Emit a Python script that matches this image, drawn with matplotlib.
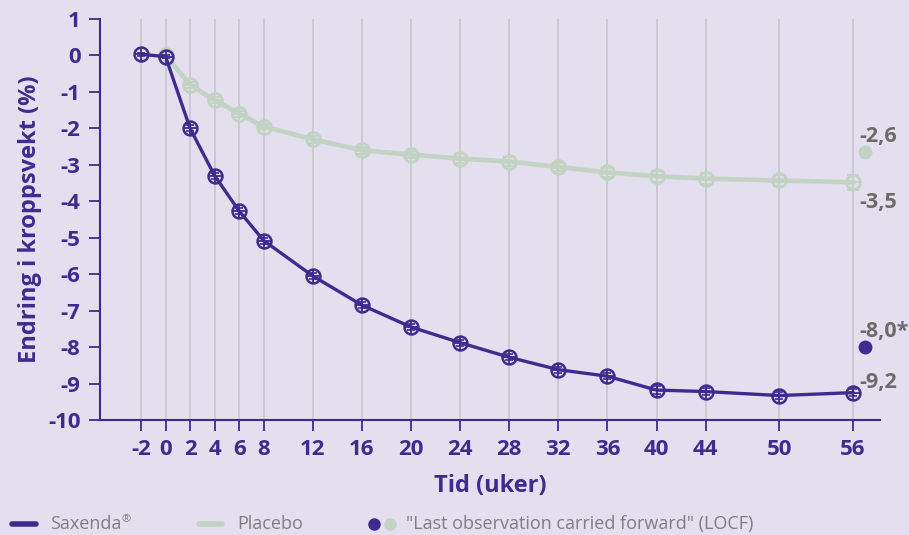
import numpy as np
import matplotlib
matplotlib.use('Agg')
import matplotlib.pyplot as plt
from matplotlib.lines import Line2D

plt.rcParams['font.family'] = ['Open Sans', 'DejaVu Sans']

# uker
uker_sax = [-2, 0, 2, 4, 6, 8, 12, 16, 20, 24, 28, 32, 36, 40, 44, 50, 56]
saxenda = [0.03, -0.03, -2.0, -3.3, -4.27, -5.08, -6.05, -6.85, -7.45, -7.88,
           -8.28, -8.62, -8.8, -9.18, -9.22, -9.33, -9.25]
saxenda_err = [0.05, 0.05, 0.08, 0.08, 0.08, 0.08, 0.08, 0.08, 0.08, 0.08,
               0.08, 0.08, 0.08, 0.1, 0.1, 0.1, 0.1]

uker_pla = [0, 2, 4, 6, 8, 12, 16, 20, 24, 28, 32, 36, 40, 44, 50, 56]
placebo = [0.0, -0.8, -1.23, -1.6, -1.95, -2.3, -2.6, -2.72, -2.83, -2.91,
           -3.06, -3.21, -3.31, -3.38, -3.43, -3.48]
placebo_err = [0.05, 0.08, 0.08, 0.08, 0.08, 0.1, 0.1, 0.1, 0.12, 0.12,
               0.12, 0.12, 0.15, 0.15, 0.15, 0.2]

locf_uke = 57
locf_sax = -8.0
locf_pla = -2.65

etiketter = [('-2,6', -2.23), ('-3,5', -4.03), ('-8,0*', -7.58), ('-9,2', -8.98)]

xticks = [-2, 0, 2, 4, 6, 8, 12, 16, 20, 24, 28, 32, 36, 40, 44, 50, 56]
yticks = list(range(1, -11, -1))

lilla = '#3f2b8f'
gronn = '#c3d3c3'
bakgrunn = '#e3dfee'
gra_tekst = '#6b6b6b'

fig = plt.figure(figsize=(9.09, 5.35), dpi=100, facecolor=bakgrunn)
ax = fig.add_axes([0.110, 0.215, 0.858, 0.7495])
ax.set_facecolor(bakgrunn)

for x in xticks:
    ax.axvline(x, color='#c7c4cd', lw=1.2, zorder=0)

# placebo
ax.errorbar(uker_pla, placebo, yerr=placebo_err, color=gronn, lw=3.4,
            elinewidth=1.5, capsize=4, capthick=1.5, zorder=2)
ax.plot(uker_pla, placebo, 'o', ms=10, mfc='none', mec=gronn, mew=2, zorder=3)
ax.plot(uker_pla, placebo, '+', ms=10, mec=gronn, mew=1.5, zorder=3)

# saxenda
ax.errorbar(uker_sax, saxenda, yerr=saxenda_err, color=lilla, lw=2.4,
            elinewidth=1.2, capsize=3, capthick=1.2, zorder=4)
ax.plot(uker_sax, saxenda, 'o', ms=10, mfc='none', mec=lilla, mew=1.8, zorder=5)
ax.plot(uker_sax, saxenda, '+', ms=10, mec=lilla, mew=1.3, zorder=5)

# LOCF
ax.plot(locf_uke, locf_pla, 'o', ms=10, color=gronn, mec='none', clip_on=False, zorder=5)
ax.plot(locf_uke, locf_sax, 'o', ms=10, color=lilla, mec='none', clip_on=False, zorder=5)

for tekst, yv in etiketter:
    ax.text(56.5, yv, tekst, color=gra_tekst, fontsize=15.5, fontweight='bold',
            ha='left', va='center', clip_on=False)

ax.set_xlim(-5.34, 58.2)
ax.set_ylim(-10, 1)
ax.set_xticks(xticks)
ax.set_xticklabels([str(x) for x in xticks])
ax.set_yticks(yticks)
ax.set_yticklabels([str(y) for y in yticks])

for s in ['top', 'right']:
    ax.spines[s].set_visible(False)
for s in ['left', 'bottom']:
    ax.spines[s].set_color(lilla)
    ax.spines[s].set_linewidth(1.5)

ax.tick_params(axis='both', colors=lilla, length=8, width=1.3, labelsize=16, pad=6)
for lab in ax.get_xticklabels() + ax.get_yticklabels():
    lab.set_fontweight('bold')
    lab.set_color(lilla)

ax.set_xlabel('Tid (uker)', fontsize=17, fontweight='bold', color=lilla, labelpad=10)
ax.set_ylabel('Endring i kroppsvekt (%)', fontsize=17, fontweight='bold', color=lilla, labelpad=4)

# forklaring nederst
ly = 11 / 535
fig.lines.append(Line2D([12/909, 36/909], [ly, ly], color=lilla, lw=4,
                        solid_capstyle='round', transform=fig.transFigure))
fig.text(50/909, ly, 'Saxenda', color='#7d7d7d', fontsize=13, va='center')
fig.text(122/909, 15/535, '®', color='#7d7d7d', fontsize=8, va='center')
fig.lines.append(Line2D([199/909, 222/909], [ly, ly], color=gronn, lw=4,
                        solid_capstyle='round', transform=fig.transFigure))
fig.text(237/909, ly, 'Placebo', color='#7d7d7d', fontsize=13, va='center')
fig.lines.append(Line2D([374/909], [ly], marker='o', ms=9, color=lilla, mec='none',
                        transform=fig.transFigure))
fig.lines.append(Line2D([390/909], [ly], marker='o', ms=9, color=gronn, mec='none',
                        transform=fig.transFigure))
fig.text(406/909, ly, '"Last observation carried forward" (LOCF)', color='#7d7d7d',
         fontsize=13, va='center')

fig.savefig('out.png', dpi=100, facecolor=bakgrunn)
